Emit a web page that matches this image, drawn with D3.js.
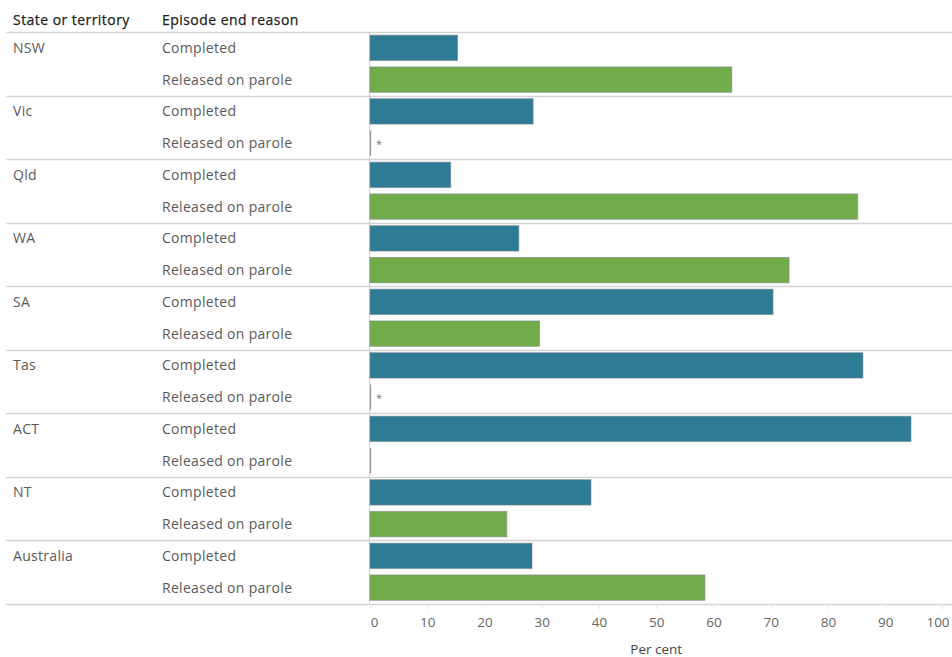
<!DOCTYPE html>
<html><head><meta charset="utf-8">
<script src="https://cdn.jsdelivr.net/npm/d3@7"></script>
<style>
body{margin:0;background:#fff}
svg text{font-family:"Open Sans",sans-serif}
</style>
</head><body>
<svg id="c" width="952" height="657"></svg>
<script>
// ---- data ----
const states = ["NSW","Vic","Qld","WA","SA","Tas","ACT","NT","Australia"];
const reasons = ["Completed","Released on parole"];
const completed = [15.3,28.5,14.1,26.0,70.4,86.1,94.5,38.6,28.3];
const parole = [63.2,0,85.2,73.2,29.6,0,0,23.9,58.5];
const paroleNotes = ["","*","","","","*","","",""];
const completedNotes = ["","","","","","","","",""];
const xTicks = [0,10,20,30,40,50,60,70,80,90,100];
const headers = ["State or territory","Episode end reason"];
const xTitle = "Per cent";
const colors = ["#2E7B96","#72AC4A"];

// ---- build rows ----
const rows = [];
states.forEach((s,i)=>{
  rows.push({state:s, reason:reasons[0], value:completed[i], note:completedNotes[i], c:colors[0]});
  rows.push({state:s, reason:reasons[1], value:parole[i], note:paroleNotes[i], c:colors[1]});
});

const svg = d3.select("#c");
const W = 952, yTop = 32, yBottom = 603.5;
const x = d3.scaleLinear().domain([0,100]).range([370,942.5]);
const yG = d3.scaleBand().domain(states).range([yTop,yBottom]);
const yR = d3.scaleBand().domain(reasons).range([0,yG.bandwidth()]).paddingInner(0.2).paddingOuter(0.1);

const textCol = "#5a5a5a";

// headers
svg.selectAll("text.hdr").data(headers).join("text").attr("class","hdr")
  .attr("x",(d,i)=>i===0?13:162).attr("y",25).attr("fill","#222")
  .attr("font-size",14).attr("letter-spacing",0.45).style("stroke","#222").style("stroke-width",0.25).text(d=>d);

// separators
const seps = states.map(s=>yG(s)).concat([yBottom]);
svg.append("g").selectAll("line").data(seps).join("line")
  .attr("x1",6).attr("x2",W).attr("y1",d=>Math.round(d)+0.5).attr("y2",d=>Math.round(d)+0.5)
  .attr("stroke","#d4d4d4").attr("stroke-width",1.3);

// vertical axis line
svg.append("line").attr("x1",369.5).attr("x2",369.5).attr("y1",yTop).attr("y2",yBottom)
  .attr("stroke","#cfcfcf");

// state labels
svg.append("g").selectAll("text").data(states).join("text")
  .attr("x",13).attr("y",s=>yG(s)+yR(reasons[0])+yR.bandwidth()/2)
  .attr("dy","0.35em").attr("fill",textCol).attr("font-size",14).attr("letter-spacing",0.3).text(d=>d);

// reason labels
svg.append("g").selectAll("text").data(rows).join("text")
  .attr("x",162).attr("y",d=>yG(d.state)+yR(d.reason)+yR.bandwidth()/2)
  .attr("dy","0.35em").attr("fill",textCol).attr("font-size",14).attr("letter-spacing",0.3).text(d=>d.reason);

// bars
svg.append("g").selectAll("rect").data(rows).join("rect")
  .attr("x",x(0))
  .attr("y",d=>yG(d.state)+yR(d.reason))
  .attr("width",d=>Math.max(x(d.value)-x(0),1.2))
  .attr("height",yR.bandwidth())
  .attr("fill",d=>d.value===0?"#9a9a9a":d.c)
  .attr("stroke",d=>d.value===0?"none":"#7d8a8f")
  .attr("stroke-opacity",0.6)
  .attr("stroke-width",1);

// notes
svg.append("g").selectAll("text").data(rows.filter(d=>d.note)).join("text")
  .attr("x",x(0)+6).attr("y",d=>yG(d.state)+yR(d.reason)+yR.bandwidth()/2)
  .attr("dy","0.45em").attr("fill","#777").attr("font-size",11).text(d=>d.note);

// x axis
const ax = svg.append("g").attr("transform",`translate(0,${yBottom})`)
  .call(d3.axisBottom(x).tickValues(xTicks).tickSize(6).tickPadding(8).tickFormat(d3.format("d")));
ax.select(".domain").remove();
ax.selectAll(".tick line").attr("stroke","#e8e8e8");
ax.selectAll(".tick text").attr("fill","#666").attr("font-size",13.5)
  .style("font-family",'"Open Sans",sans-serif')
  .attr("dx",d=>d===0?4:(d===100?-5:0));

svg.append("text").attr("x",x(50)).attr("y",654).attr("text-anchor","middle")
  .attr("fill","#444").attr("font-size",13.5).text(xTitle);
</script>
</body></html>
